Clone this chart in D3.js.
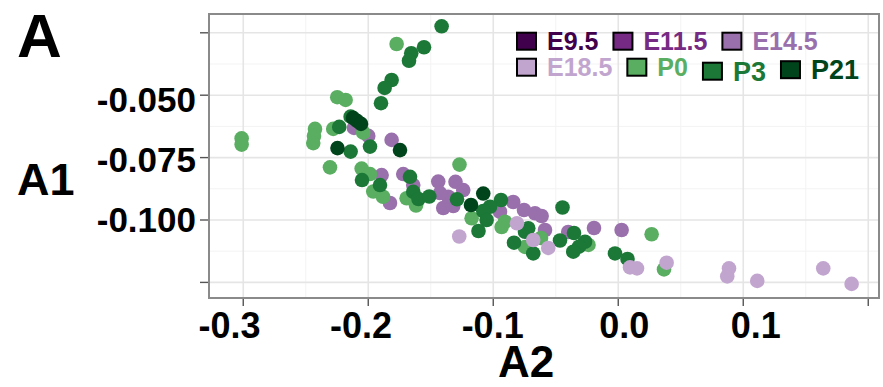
<!DOCTYPE html>
<html>
<head>
<meta charset="utf-8">
<script src="https://cdn.jsdelivr.net/npm/d3@7"></script>
<style>
  html, body { margin: 0; padding: 0; background: #fff; }
  svg { display: block; }
  text { font-family: "Liberation Sans", Arial, Helvetica, sans-serif; font-weight: bold; }
</style>
</head>
<body>
<svg id="chart" width="883" height="387"></svg>
<script>
// Developmental stages and their PRGn colours
const stages = ["E9.5", "E11.5", "E14.5", "E18.5", "P0", "P3", "P21"];
const stageColors = ["#40004b", "#762a83", "#9970ab", "#c2a5cf", "#5aae61", "#1b7837", "#00441b"];

// Sample coordinates per stage: [A2, A1]
const ptsE95 = [];
const ptsE115 = [];
const ptsE145 = [
  [-0.2114, -0.0631], [-0.2000, -0.0663], [-0.1813, -0.0679], [-0.1893, -0.0820],
  [-0.1826, -0.0932], [-0.1720, -0.0816], [-0.1640, -0.0860], [-0.1440, -0.0846],
  [-0.1302, -0.0847], [-0.1400, -0.0952], [-0.1320, -0.0944], [-0.1360, -0.0907],
  [-0.1240, -0.0880], [-0.0840, -0.0928], [-0.0946, -0.0967], [-0.0754, -0.0960],
  [-0.0666, -0.0973], [-0.0613, -0.0984], [-0.0586, -0.1040], [-0.0194, -0.1032],
  [0.0027, -0.1040], [-0.0400, -0.1048], [-0.1426, -0.0892]
];
const ptsE185 = [
  [-0.1272, -0.1066], [-0.0810, -0.1013], [-0.0680, -0.1080], [-0.0560, -0.1112],
  [0.0094, -0.1190], [0.0150, -0.1194], [0.0387, -0.1171], [0.0886, -0.1194],
  [0.0872, -0.1226], [0.1112, -0.1244], [0.1640, -0.1194], [0.1867, -0.1256]
];
const ptsP0 = [
  [-0.1773, -0.0295], [-0.2248, -0.0508], [-0.2181, -0.0519], [-0.2426, -0.0635],
  [-0.2434, -0.0663], [-0.2440, -0.0692], [-0.2280, -0.0635], [-0.3013, -0.0673],
  [-0.3013, -0.0698], [-0.2040, -0.0650], [-0.2306, -0.0789], [-0.1270, -0.0778],
  [-0.2053, -0.0794], [-0.1986, -0.0816], [-0.1960, -0.0886], [-0.1882, -0.0907],
  [-0.1693, -0.0913], [-0.1618, -0.0942], [-0.1173, -0.0993], [-0.0933, -0.1028],
  [-0.0906, -0.1007], [-0.0746, -0.1108], [-0.0618, -0.1072], [-0.0238, -0.1100],
  [0.0267, -0.1057], [0.0366, -0.1198]
];
const ptsP3 = [
  [-0.1413, -0.0224], [-0.1554, -0.0308], [-0.1656, -0.0332], [-0.1674, -0.0362],
  [-0.1813, -0.0439], [-0.1869, -0.0471], [-0.1898, -0.0532], [-0.2141, -0.0586],
  [-0.2232, -0.0627], [-0.1986, -0.0706], [-0.2141, -0.0726], [-0.2050, -0.0840],
  [-0.1906, -0.0860], [-0.1666, -0.0827], [-0.1640, -0.0887], [-0.1598, -0.0916],
  [-0.1512, -0.0906], [-0.1290, -0.0917], [-0.0938, -0.0920], [-0.1026, -0.0947],
  [-0.1080, -0.0964], [-0.1053, -0.1000], [-0.1118, -0.1044], [-0.0720, -0.1033],
  [-0.0746, -0.1047], [-0.0834, -0.1091], [-0.0680, -0.1134], [-0.0446, -0.0950],
  [-0.0354, -0.1052], [-0.0466, -0.1082], [-0.0266, -0.1087], [-0.0314, -0.1107],
  [-0.0360, -0.1127], [-0.0026, -0.1134], [0.0074, -0.1156]
];
const ptsP21 = [
  [-0.2122, -0.0591], [-0.2090, -0.0603], [-0.2058, -0.0615], [-0.2246, -0.0712],
  [-0.1746, -0.0720], [-0.1080, -0.0894], [-0.1178, -0.0940]
];

// Axis ticks and the ones that carry labels
const xTicks = [-0.3, -0.2, -0.1, 0.0, 0.1, 0.2];
const xTickLabels = [-0.3, -0.2, -0.1, 0.0, 0.1];
const yTicks = [-0.125, -0.100, -0.075, -0.050, -0.025];
const yTickLabels = [-0.100, -0.075, -0.050];

const svg = d3.select("#chart");
const panel = { left: 209, right: 879, top: 14, bottom: 298 };

const x = d3.scaleLinear().domain([-0.3274, 0.2086]).range([panel.left, panel.right]);
const y = d3.scaleLinear().domain([-0.13125, -0.01747]).range([panel.bottom, panel.top]);
// label placement along each axis
const xLab = d3.scaleLinear().domain([-0.3, 0.1]).range([229.5, 755.8]);
const yLab = d3.scaleLinear().domain([-0.1, -0.05]).range([220, 99.5]);
// plain hyphen-minus in tick labels
const fmt = digits => v => v.toFixed(digits);

// panel background
svg.append("rect")
  .attr("x", panel.left).attr("y", panel.top)
  .attr("width", panel.right - panel.left).attr("height", panel.bottom - panel.top)
  .attr("fill", "#fff");

// minor grid
const xMinor = d3.range(-0.35, 0.25, 0.1).map(v => +(v).toFixed(3)).filter(v => v > x.domain()[0] && v < x.domain()[1]);
const yMinor = d3.range(-0.1375, -0.01, 0.025).map(v => +(v).toFixed(4)).filter(v => v > y.domain()[0] && v < y.domain()[1]);
const grid = svg.append("g");
grid.selectAll(".vminor").data(xMinor).join("line")
  .attr("x1", d => x(d)).attr("x2", d => x(d))
  .attr("y1", panel.top).attr("y2", panel.bottom)
  .attr("stroke", "#f3f3f3").attr("stroke-width", 1);
grid.selectAll(".hminor").data(yMinor).join("line")
  .attr("y1", d => y(d)).attr("y2", d => y(d))
  .attr("x1", panel.left).attr("x2", panel.right)
  .attr("stroke", "#f3f3f3").attr("stroke-width", 1);
// major grid
grid.selectAll(".vmajor").data(xTicks).join("line")
  .attr("x1", d => x(d)).attr("x2", d => x(d))
  .attr("y1", panel.top).attr("y2", panel.bottom)
  .attr("stroke", "#e5e5e5").attr("stroke-width", 1.6);
grid.selectAll(".hmajor").data(yTicks).join("line")
  .attr("y1", d => y(d)).attr("y2", d => y(d))
  .attr("x1", panel.left).attr("x2", panel.right)
  .attr("stroke", "#e5e5e5").attr("stroke-width", 1.6);

// points
const layers = [
  { pts: ptsE95, col: stageColors[0] },
  { pts: ptsE115, col: stageColors[1] },
  { pts: ptsE145, col: stageColors[2] },
  { pts: ptsP0, col: stageColors[4] },
  { pts: ptsP3, col: stageColors[5] },
  { pts: ptsP21, col: stageColors[6] },
  { pts: ptsE185, col: stageColors[3] }
];
const dots = svg.append("g");
layers.forEach(l => {
  dots.append("g").selectAll("circle").data(l.pts).join("circle")
    .attr("cx", d => x(d[0])).attr("cy", d => y(d[1]))
    .attr("r", 7.3).attr("fill", l.col);
});

// panel border
svg.append("rect")
  .attr("x", panel.left).attr("y", panel.top)
  .attr("width", panel.right - panel.left).attr("height", panel.bottom - panel.top)
  .attr("fill", "none").attr("stroke", "#8a8a8a").attr("stroke-width", 2);

// ticks
const axes = svg.append("g");
axes.selectAll(".xt").data(xTicks).join("line")
  .attr("x1", d => x(d)).attr("x2", d => x(d))
  .attr("y1", panel.bottom + 1).attr("y2", panel.bottom + 8)
  .attr("stroke", "#555").attr("stroke-width", 1.4);
axes.selectAll(".yt").data(yTicks).join("line")
  .attr("y1", d => y(d)).attr("y2", d => y(d))
  .attr("x1", panel.left - 9).attr("x2", panel.left - 1)
  .attr("stroke", "#555").attr("stroke-width", 1.4);

// tick labels
axes.selectAll(".xl").data(xTickLabels).join("text")
  .attr("x", d => xLab(d)).attr("y", 338)
  .attr("text-anchor", "middle").attr("font-size", 36).attr("fill", "#000")
  .text(fmt(1));
axes.selectAll(".yl").data(yTickLabels).join("text")
  .attr("x", 196).attr("y", d => yLab(d) + 12)
  .attr("text-anchor", "end").attr("font-size", 35).attr("fill", "#000")
  .text(fmt(3));

// axis titles and panel tag
svg.append("text").attr("x", 17).attr("y", 57).attr("font-size", 62).text("A");
svg.append("text").attr("x", 17).attr("y", 195).attr("font-size", 45).text("A1");
svg.append("text").attr("x", 526).attr("y", 377).attr("text-anchor", "middle").attr("font-size", 44).text("A2");

// legend
const legendRows = [[0, 1, 2], [3, 4, 5, 6]];
const legendSize = [25, 25, 25, 25, 25, 27, 27];
const legendShift = [0, 0, 0, 0, 0, 4, 2.5];
const legend = svg.append("g");
const rowTop = [31.7, 57.7];
legendRows.forEach((row, ri) => {
  let cx = 516;
  row.forEach(i => {
    const top = rowTop[ri] + legendShift[i];
    legend.append("rect")
      .attr("x", cx + 1).attr("y", top + 1)
      .attr("width", 19).attr("height", 17)
      .attr("fill", stageColors[i]).attr("stroke", "#000").attr("stroke-width", 2);
    const t = legend.append("text")
      .attr("x", cx + 31).attr("y", top + 18 + (legendSize[i] - 25) * 0.5)
      .attr("font-size", legendSize[i]).attr("fill", stageColors[i])
      .text(stages[i]);
    cx = cx + 31 + t.node().getComputedTextLength() + 14;
  });
});
</script>
</body>
</html>
